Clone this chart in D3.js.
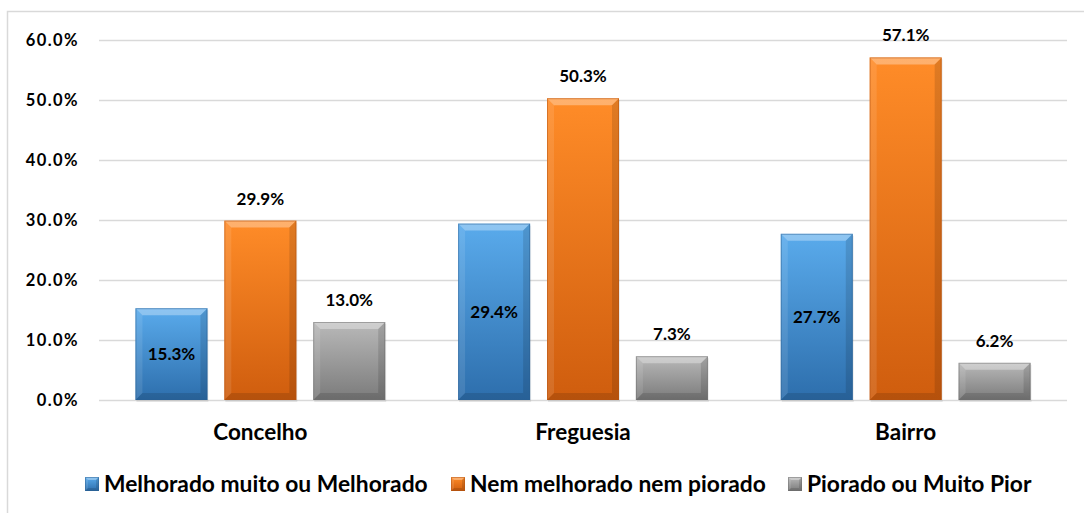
<!DOCTYPE html>
<html>
<head>
<meta charset="utf-8">
<script src="https://cdn.jsdelivr.net/npm/d3@7"></script>
<style>
  html, body { margin: 0; padding: 0; background: #ffffff; }
  svg { display: block; }
  text { font-family: Lato, "Open Sans", sans-serif; font-weight: bold; fill: #000; }
</style>
</head>
<body>
<svg id="chart" width="1084" height="513"></svg>
<script>
const categories = ["Concelho", "Freguesia", "Bairro"];
const seriesNames = ["Melhorado muito ou Melhorado", "Nem melhorado nem piorado", "Piorado ou Muito Pior"];
const melhorado = [15.3, 29.4, 27.7];
const nemNem = [29.9, 50.3, 57.1];
const piorado = [13.0, 7.3, 6.2];
const yTicks = [0, 10, 20, 30, 40, 50, 60];

const seriesValues = [melhorado, nemNem, piorado];
const palette = [
  { top: "#5aabec", bottom: "#2d6eac", edge: "#2a5f94" },
  { top: "#ff8c28", bottom: "#cf5d0e", edge: "#b45210" },
  { top: "#b9b9b9", bottom: "#7b7b7b", edge: "#6d6d6d" }
];

const W = 1084, H = 513;
const plot = { left: 99, right: 1067, top: 40, bottom: 400 };
const svg = d3.select("#chart");

const defs = svg.append("defs");
palette.forEach((p, i) => {
  const g = defs.append("linearGradient").attr("id", "grad" + i)
    .attr("x1", 0).attr("y1", 0).attr("x2", 0).attr("y2", 1);
  g.append("stop").attr("offset", "0%").attr("stop-color", p.top);
  g.append("stop").attr("offset", "100%").attr("stop-color", p.bottom);
});

// outer frame
svg.append("path").attr("d", `M7.5,${H} V11.5 H${W}`)
  .attr("fill", "none").attr("stroke", "#d9d9d9").attr("stroke-width", 1.5);

const y = d3.scaleLinear().domain([0, 60]).range([plot.bottom, plot.top]);
const x0 = d3.scaleBand().domain(categories).range([plot.left, plot.right]).padding(0);
const x1 = d3.scaleBand().domain(d3.range(seriesNames.length))
  .range([0, x0.bandwidth()]).paddingInner(0.19).paddingOuter(0.41);

// gridlines
svg.append("g").selectAll("line").data(yTicks).join("line")
  .attr("x1", plot.left).attr("x2", plot.right)
  .attr("y1", d => Math.round(y(d)) + 0.5).attr("y2", d => Math.round(y(d)) + 0.5)
  .attr("stroke", "#d9d9d9").attr("stroke-width", 1.6);

// y axis labels
const yAxis = d3.axisLeft(y).tickValues(yTicks).tickSize(0).tickPadding(0)
  .tickFormat(d => d.toFixed(1) + "%");
const yg = svg.append("g").attr("transform", `translate(79,0)`).call(yAxis);
yg.select(".domain").remove();
yg.selectAll("text").attr("font-size", 16.5).attr("font-family", "Lato, sans-serif")
  .attr("font-weight", "bold").attr("fill", "#000").attr("dy", "0.35em")
  .attr("letter-spacing", 1.4);

// x axis labels
const xAxis = d3.axisBottom(x0).tickSize(0).tickPadding(0);
const xg = svg.append("g").attr("transform", `translate(0,432)`).call(xAxis);
xg.select(".domain").remove();
xg.selectAll("text").attr("font-size", 22.5).attr("font-family", "Lato, sans-serif")
  .attr("font-weight", "bold").attr("fill", "#000").attr("dy", "0.35em");

function bevelBar(g, x, yy, w, h, i, b) {
  const p = palette[i];
  g.append("rect").attr("x", x).attr("y", yy).attr("width", w).attr("height", h)
    .attr("fill", `url(#grad${i})`);
  const bb = Math.min(b, h / 2, w / 2);
  const poly = (pts, fill, op) => g.append("polygon")
    .attr("points", pts.map(q => q.join(",")).join(" "))
    .attr("fill", fill).attr("fill-opacity", op);
  poly([[x, yy], [x + w, yy], [x + w - bb, yy + bb], [x + bb, yy + bb]], "#ffffff", 0.32);
  poly([[x, yy], [x + bb, yy + bb], [x + bb, yy + h - bb], [x, yy + h]], "#ffffff", 0.10);
  poly([[x + w, yy], [x + w, yy + h], [x + w - bb, yy + h - bb], [x + w - bb, yy + bb]], "#000000", 0.12);
  poly([[x, yy + h], [x + w, yy + h], [x + w - bb, yy + h - bb], [x + bb, yy + h - bb]], "#000000", 0.12);
  g.append("rect").attr("x", x + 0.5).attr("y", yy + 0.5).attr("width", w - 1).attr("height", h - 1)
    .attr("fill", "none").attr("stroke", p.edge).attr("stroke-opacity", 0.5);
}

// bars
const barsG = svg.append("g");
categories.forEach((c, ci) => {
  seriesValues.forEach((vals, si) => {
    const v = vals[ci];
    const bx = x0(c) + x1(si);
    const by = y(v);
    const bh = y(0) - y(v);
    barsG.append("rect").attr("x", bx + 1).attr("y", by + 2).attr("width", x1.bandwidth())
      .attr("height", bh).attr("fill", "#000").attr("fill-opacity", 0.08);
    bevelBar(barsG, bx, by, x1.bandwidth(), bh, si, 7);
    const inside = si === 0;
    barsG.append("text")
      .attr("x", bx + x1.bandwidth() / 2)
      .attr("y", inside ? (y(v) + y(0)) / 2 : y(v) - 22)
      .attr("dy", "0.35em")
      .attr("text-anchor", "middle")
      .attr("font-size", 17)
      .text(v.toFixed(1) + "%");
  });
});

// legend
const legendX = [85, 451, 788];
const lg = svg.append("g");
seriesNames.forEach((n, i) => {
  const g = lg.append("g").attr("transform", `translate(${legendX[i]},477)`);
  bevelBar(g, 0, 0, 14, 14, i, 3);
  g.append("text").attr("x", 19).attr("y", 7).attr("dy", "0.35em")
    .attr("font-size", 22.8).text(n);
});
</script>
</body>
</html>
